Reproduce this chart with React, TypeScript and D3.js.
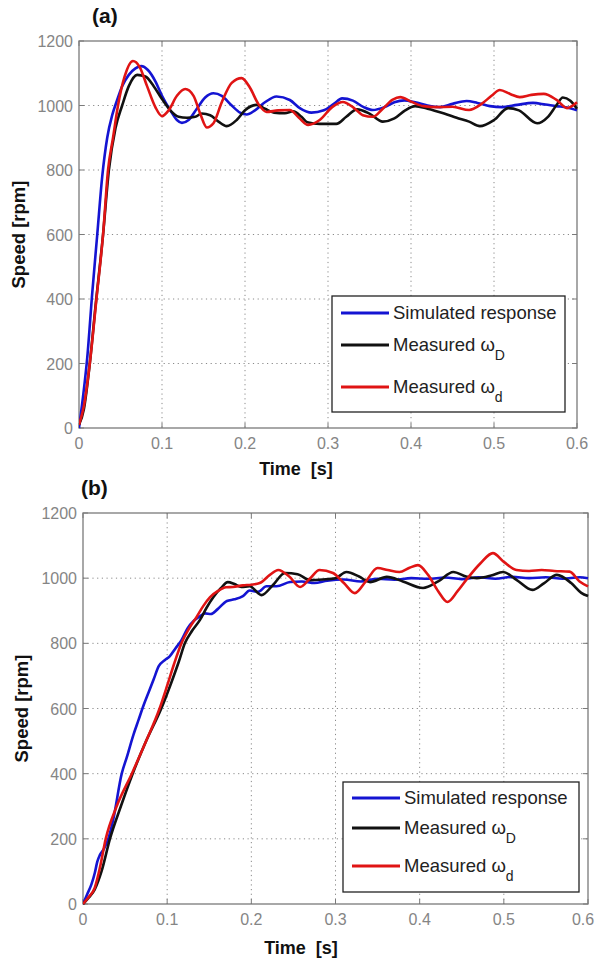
import React from "react";
import * as d3 from "d3";

// ---------- Data ----------
const xTicks = [0, 0.1, 0.2, 0.3, 0.4, 0.5, 0.6];
const yTicks = [0, 200, 400, 600, 800, 1000, 1200];
const xTickLabels = ["0", "0.1", "0.2", "0.3", "0.4", "0.5", "0.6"];
const yTickLabels = ["0", "200", "400", "600", "800", "1000", "1200"];
const seriesNames = ["Simulated response", "Measured ω", "Measured ω"];
const seriesSubs = ["", "D", "d"];
const seriesColors = ["#1414d2", "#111111", "#e01414"];

// Panel (a)
const simA_t = [0, 0.005, 0.01, 0.016, 0.022, 0.028, 0.034, 0.04, 0.045, 0.052, 0.06, 0.068, 0.075, 0.083, 0.092, 0.1, 0.11, 0.118, 0.124, 0.132, 0.142, 0.152, 0.162, 0.172, 0.184, 0.194, 0.202, 0.212, 0.224, 0.238, 0.254, 0.266, 0.28, 0.295, 0.307, 0.317, 0.33, 0.343, 0.354, 0.368, 0.38, 0.392, 0.405, 0.42, 0.435, 0.45, 0.467, 0.48, 0.495, 0.51, 0.528, 0.547, 0.562, 0.575, 0.588, 0.6];
const simA_v = [0, 100, 220, 420, 600, 780, 900, 970, 1010, 1060, 1095, 1115, 1122, 1110, 1075, 1030, 985, 955, 946, 955, 990, 1025, 1038, 1030, 1000, 978, 972, 985, 1010, 1028, 1017, 992, 978, 985, 1005, 1022, 1015, 995, 986, 995, 1010, 1016, 1010, 1000, 995, 1005, 1014, 1008, 998, 995, 1002, 1008, 1003, 998, 994, 985];

const measDA_t = [0, 0.006, 0.013, 0.02, 0.029, 0.036, 0.044, 0.052, 0.06, 0.07, 0.08, 0.09, 0.1, 0.11, 0.12, 0.13, 0.14, 0.148, 0.158, 0.168, 0.178, 0.19, 0.2, 0.214, 0.224, 0.235, 0.248, 0.258, 0.268, 0.275, 0.29, 0.31, 0.322, 0.335, 0.35, 0.366, 0.38, 0.393, 0.405, 0.42, 0.44, 0.455, 0.47, 0.483, 0.5, 0.517, 0.53, 0.552, 0.565, 0.575, 0.583, 0.592, 0.6];
const measDA_v = [10, 60, 200, 380, 600, 800, 930, 1000, 1060, 1095, 1090, 1060, 1020, 985, 965, 962, 965, 975, 970, 950, 936, 955, 985, 1002, 990, 978, 976, 982, 965, 948, 943, 943, 965, 988, 975, 950, 960, 985, 998, 990, 975, 962, 950, 936, 955, 992, 985, 945, 965, 1000, 1025, 1015, 990];

const measdA_t = [0, 0.006, 0.013, 0.021, 0.029, 0.035, 0.041, 0.047, 0.055, 0.065, 0.073, 0.082, 0.092, 0.1, 0.108, 0.118, 0.128, 0.138, 0.146, 0.154, 0.162, 0.172, 0.184, 0.196, 0.206, 0.216, 0.226, 0.24, 0.254, 0.265, 0.276, 0.29, 0.305, 0.318, 0.33, 0.342, 0.354, 0.366, 0.378, 0.387, 0.4, 0.415, 0.43, 0.45, 0.47, 0.485, 0.497, 0.507, 0.52, 0.531, 0.545, 0.56, 0.575, 0.588, 0.6];
const measdA_v = [10, 70, 200, 400, 600, 800, 900, 1000, 1090, 1138, 1120, 1060, 995, 967, 985, 1030, 1051, 1030, 975, 932, 945, 1010, 1070, 1085, 1055, 1005, 980, 985, 986, 962, 940, 955, 995, 1011, 995, 970, 965, 990, 1018, 1026, 1012, 998, 995, 996, 986, 1005, 1030, 1048, 1035, 1026, 1033, 1036, 1018, 992, 1010];

// Panel (b)
const simB_t = [0, 0.005, 0.01, 0.014, 0.017, 0.02, 0.025, 0.03, 0.036, 0.046, 0.052, 0.06, 0.066, 0.072, 0.078, 0.084, 0.09, 0.097, 0.103, 0.11, 0.117, 0.124, 0.132, 0.14, 0.145, 0.152, 0.16, 0.171, 0.18, 0.19, 0.198, 0.208, 0.218, 0.23, 0.246, 0.26, 0.275, 0.29, 0.31, 0.33, 0.35, 0.37, 0.39, 0.41, 0.43, 0.45, 0.47, 0.49, 0.51, 0.53, 0.55, 0.57, 0.59, 0.6];
const simB_v = [0, 30, 60, 95, 130, 150, 170, 200, 260, 400, 450, 520, 565, 610, 650, 690, 730, 748, 760, 785, 810, 845, 870, 885, 892, 890, 905, 930, 935, 945, 962, 958, 975, 975, 988, 990, 985, 992, 996, 990, 998, 995, 1000, 998, 1002, 997, 1003, 998, 1004, 1000, 1003, 998, 1003, 1000];

const measDB_t = [0, 0.007, 0.014, 0.022, 0.032, 0.045, 0.059, 0.075, 0.093, 0.105, 0.114, 0.121, 0.13, 0.139, 0.147, 0.155, 0.164, 0.172, 0.18, 0.188, 0.198, 0.212, 0.226, 0.24, 0.255, 0.27, 0.285, 0.3, 0.313, 0.328, 0.341, 0.361, 0.38, 0.404, 0.422, 0.44, 0.455, 0.468, 0.485, 0.499, 0.515, 0.534, 0.548, 0.563, 0.58, 0.592, 0.6];
const measDB_v = [0, 20, 45, 100, 200, 300, 400, 500, 600, 680, 745, 800, 840, 872, 910, 942, 970, 988, 982, 973, 975, 948, 980, 1016, 1012, 994, 996, 1000, 1019, 1005, 988, 1004, 990, 970, 990, 1019, 1005, 1000, 1008, 1019, 995, 964, 985, 1010, 985, 955, 945];

const measdB_t = [0, 0.007, 0.014, 0.02, 0.027, 0.04, 0.058, 0.075, 0.091, 0.1, 0.108, 0.117, 0.126, 0.135, 0.143, 0.151, 0.16, 0.17, 0.178, 0.19, 0.2, 0.21, 0.222, 0.232, 0.245, 0.258, 0.27, 0.281, 0.297, 0.31, 0.323, 0.336, 0.35, 0.362, 0.376, 0.388, 0.398, 0.41, 0.422, 0.433, 0.445, 0.457, 0.472, 0.487, 0.5, 0.515, 0.53, 0.545, 0.56, 0.578, 0.59, 0.6];
const measdB_v = [0, 22, 50, 110, 200, 300, 400, 500, 600, 670, 735, 800, 845, 881, 915, 942, 960, 972, 973, 978, 980, 985, 1010, 1025, 1005, 973, 1000, 1025, 1016, 985, 954, 990, 1031, 1025, 1019, 1032, 1040, 1010, 960, 927, 960, 1000, 1045, 1077, 1050, 1025, 1022, 1025, 1022, 1020, 990, 975];

type Pt = [number, number];
const zip = (t: number[], v: number[]): Pt[] => t.map((x, i) => [x, v[i]]);

const tickFont = "'Liberation Sans', Arial, sans-serif";
const labelFont = "'Liberation Sans', Arial, sans-serif";

interface PanelProps {
  id: string;
  tag: string;
  tagX: number;
  tagY: number;
  left: number;
  right: number;
  top: number;
  bottom: number;
  series: Pt[][];
  legend: { x0: number; x1: number; y0: number; y1: number; rows: number[]; subDy: number };
  yLabelX: number;
  xLabelX: number;
  xLabelY: number;
  lastTickX: number;
}

function Panel(p: PanelProps) {
  const x = d3.scaleLinear().domain([0, 0.6]).range([p.left, p.right]);
  const y = d3.scaleLinear().domain([0, 1200]).range([p.bottom, p.top]);
  const line = d3
    .line<Pt>()
    .x((d) => x(d[0]))
    .y((d) => y(d[1]))
    .curve(d3.curveMonotoneX);
  const grid = "#8a8a8a";
  const axis = "#7a7a7a";
  const L = p.legend;
  return (
    <g>
      <defs>
        <clipPath id={p.id}>
          <rect x={p.left} y={p.top - 2} width={p.right - p.left + 2} height={p.bottom - p.top + 4} />
        </clipPath>
      </defs>
      {/* grid */}
      {xTicks.slice(1, -1).map((t) => (
        <line key={"gx" + t} x1={x(t)} x2={x(t)} y1={p.top} y2={p.bottom} stroke={grid} strokeWidth={1} strokeDasharray="1.2,3.5" />
      ))}
      {yTicks.slice(1, -1).map((t) => (
        <line key={"gy" + t} x1={p.left} x2={p.right} y1={y(t)} y2={y(t)} stroke={grid} strokeWidth={1} strokeDasharray="1.2,3.5" />
      ))}
      {/* box */}
      <rect x={p.left} y={p.top} width={p.right - p.left} height={p.bottom - p.top} fill="none" stroke={axis} strokeWidth={1.3} />
      {/* tick marks */}
      {xTicks.map((t) => (
        <g key={"tx" + t}>
          <line x1={x(t)} x2={x(t)} y1={p.bottom} y2={p.bottom - 5} stroke={axis} />
          <line x1={x(t)} x2={x(t)} y1={p.top} y2={p.top + 5} stroke={axis} />
        </g>
      ))}
      {yTicks.map((t) => (
        <g key={"ty" + t}>
          <line x1={p.left} x2={p.left + 5} y1={y(t)} y2={y(t)} stroke={axis} />
          <line x1={p.right} x2={p.right - 5} y1={y(t)} y2={y(t)} stroke={axis} />
        </g>
      ))}
      {/* tick labels */}
      {xTicks.map((t, i) => (
        <text
          key={"lx" + t}
          x={i === xTicks.length - 1 ? p.lastTickX : x(t)}
          y={p.bottom + 21}
          textAnchor="middle"
          fontFamily={tickFont}
          fontSize={16}
          fill="#858585"
        >
          {xTickLabels[i]}
        </text>
      ))}
      {yTicks.map((t, i) => (
        <text key={"ly" + t} x={p.left - 6} y={y(t) + 6} textAnchor="end" fontFamily={tickFont} fontSize={16} fill="#858585">
          {yTickLabels[i]}
        </text>
      ))}
      {/* series */}
      <g clipPath={`url(#${p.id})`}>
        {p.series.map((s, i) => (
          <path key={"s" + i} d={line(s) || ""} fill="none" stroke={seriesColors[i]} strokeWidth={2.6} strokeLinejoin="round" />
        ))}
      </g>
      {/* legend */}
      <rect x={L.x0} y={L.y0} width={L.x1 - L.x0} height={L.y1 - L.y0} fill="#fff" stroke="#222" strokeWidth={1.3} />
      {L.rows.map((ry, i) => (
        <g key={"lg" + i}>
          <line x1={L.x0 + 9} x2={L.x0 + 57} y1={ry} y2={ry} stroke={seriesColors[i]} strokeWidth={3} />
          <text x={L.x0 + 61} y={ry + 6} fontFamily={tickFont} fontSize={18.5} fill="#222">
            {seriesNames[i]}
            {seriesSubs[i] && (
              <tspan dy={L.subDy} fontSize={14}>
                {seriesSubs[i]}
              </tspan>
            )}
          </text>
        </g>
      ))}
      {/* axis titles */}
      <text
        transform={`translate(${p.yLabelX},${(p.top + p.bottom) / 2}) rotate(-90)`}
        textAnchor="middle"
        fontFamily={labelFont}
        fontWeight="bold"
        fontSize={18.5}
        fill="#111"
      >
        Speed [rpm]
      </text>
      <text x={p.xLabelX} y={p.xLabelY} textAnchor="middle" fontFamily={labelFont} fontWeight="bold" fontSize={18} fill="#111" style={{ whiteSpace: "pre" }}>
        {"Time  [s]"}
      </text>
      <text x={p.tagX} y={p.tagY} fontFamily={labelFont} fontWeight="bold" fontSize={21} fill="#111">
        {p.tag}
      </text>
    </g>
  );
}

export default function App() {
  const seriesA = [zip(simA_t, simA_v), zip(measDA_t, measDA_v), zip(measdA_t, measdA_v)];
  const seriesB = [zip(simB_t, simB_v), zip(measDB_t, measDB_v), zip(measdB_t, measdB_v)];
  return (
    <svg width={595} height={962} style={{ position: "absolute", left: 0, top: 0, background: "#fff" }}>
      <rect width={595} height={962} fill="#fff" />
      <Panel
        id="clipA"
        tag="(a)"
        tagX={92}
        tagY={23}
        left={79}
        right={577}
        top={41}
        bottom={428}
        series={seriesA}
        legend={{ x0: 332, x1: 565, y0: 296, y1: 412, rows: [313, 345, 387], subDy: 9 }}
        yLabelX={25}
        xLabelX={296}
        xLabelY={475}
        lastTickX={577}
      />
      <Panel
        id="clipB"
        tag="(b)"
        tagX={81}
        tagY={495}
        left={83}
        right={588}
        top={513}
        bottom={904}
        series={seriesB}
        legend={{ x0: 343, x1: 579, y0: 782, y1: 892, rows: [798, 828, 866], subDy: 9 }}
        yLabelX={28}
        xLabelX={301}
        xLabelY={954}
        lastTickX={583}
      />
    </svg>
  );
}
